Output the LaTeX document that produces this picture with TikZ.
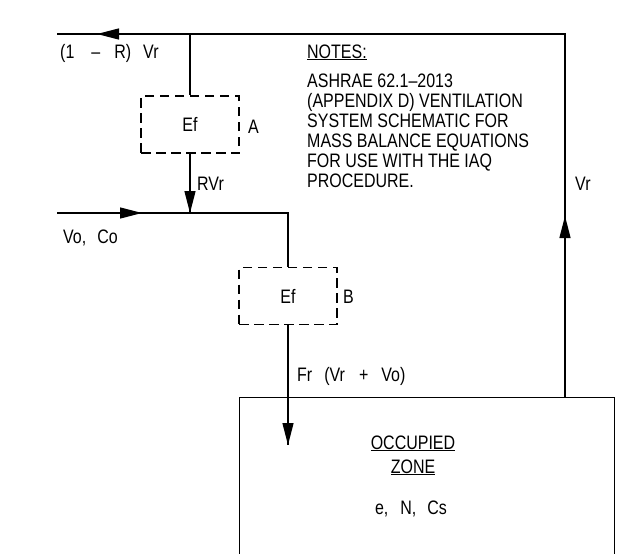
\documentclass[tikz,border=0pt]{standalone}
\usepackage{fontspec}
\setmainfont[FakeStretch=0.82]{Liberation Sans}
\usetikzlibrary{arrows.meta}
\tikzset{
  ln/.style={line width=1.3pt, line cap=butt},
  tipln/.style={line width=1.3pt, -{Triangle[length=22pt,width=11pt]}},
  filt/.style={draw, line width=1.3pt, dash pattern=on 9.5pt off 5.5pt, minimum width=98pt, minimum height=57pt, inner sep=0pt, font=\fontsize{19.5}{20}\selectfont},
  lbl/.style={inner sep=0pt, font=\fontsize{19.5}{20}\selectfont},
}
\begin{document}
\begin{tikzpicture}[x=1pt,y=-1pt]
\useasboundingbox (0,0) rectangle (624,554);
\clip (0,0) rectangle (624,554);
% coordinates
\coordinate (topL) at (57,34);
\coordinate (topR) at (565,34);
\coordinate (topJ) at (190,34);
\coordinate (midL) at (57,213);
\coordinate (midJ) at (190,213);
\coordinate (midR) at (288,213);
\coordinate (zoneJ) at (565,397);
\coordinate (supplyTip) at (288,445);
% filters
\node[filt] (fA) at (190,124.5) {Ef};
\node[filt] (fB) at (288,296) {Ef};
% zone (open at bottom)
\node[draw, line width=1.3pt, minimum width=375pt, minimum height=260pt, anchor=north west, inner sep=0pt] (zone) at (239,397) {};
% return path
\draw[ln] (zoneJ) -- (topR) -- (topL);
\draw[ln] (topJ) -- (fA.north);
\draw[ln] (fA.south) -- (midJ);
\draw[ln] (midL) -- (midR) -- (fB.north);
\draw[ln] (fB.south) -- (supplyTip);
% arrow heads
\coordinate (a1b) at (120,34); \coordinate (a1t) at (97,34);
\coordinate (a2b) at (190,191); \coordinate (a2t) at (190,213);
\coordinate (a3b) at (119,213); \coordinate (a3t) at (142,213);
\coordinate (a4b) at (288,423); \coordinate (a4t) at (288,445);
\coordinate (a5b) at (565,238); \coordinate (a5t) at (565,216);
\foreach \b/\t in {a1b/a1t,a2b/a2t,a3b/a3t,a4b/a4t,a5b/a5t}
  \draw[tipln] (\b) -- (\t);
% labels
\node[lbl, anchor=base west] (l1) at (60,58) {(1\hspace{17pt}–\hspace{14pt}R)\hspace{12pt}Vr};
\node[lbl, anchor=base west] (lA) at (248,133) {A};
\node[lbl, anchor=base west] (lB) at (343,303) {B};
\node[lbl, anchor=base west] (lRVr) at (197,190) {RVr};
\node[lbl, anchor=base west] (lVo) at (63,243) {Vo,\hspace{11pt}Co};
\node[lbl, anchor=base west] (lFr) at (297,381) {Fr\hspace{12pt}(Vr\hspace{14pt}+\hspace{13pt}Vo)};
\node[lbl, anchor=base west] (lVr) at (575,190) {Vr};
% notes
\node[lbl, anchor=base west] (nh) at (307,58) {\underline{NOTES:}};
\foreach \i/\y/\t in {1/87/{ASHRAE 62.1--2013},2/107/{(APPENDIX D) VENTILATION},3/127/{SYSTEM SCHEMATIC FOR},4/147/{MASS BALANCE EQUATIONS},5/167/{FOR USE WITH THE IAQ},6/187/{PROCEDURE.}}
  \node[lbl, anchor=base west] (n\i) at (307,\y) {\t};
% zone text
\node[lbl, anchor=base] (z1) at (413,449) {\underline{OCCUPIED}};
\node[lbl, anchor=base] (z2) at (413,473) {\underline{ZONE}};
\node[lbl, anchor=base] (z3) at (411,514) {e,\hspace{12pt}N,\hspace{11pt}Cs};
\end{tikzpicture}
\end{document}
